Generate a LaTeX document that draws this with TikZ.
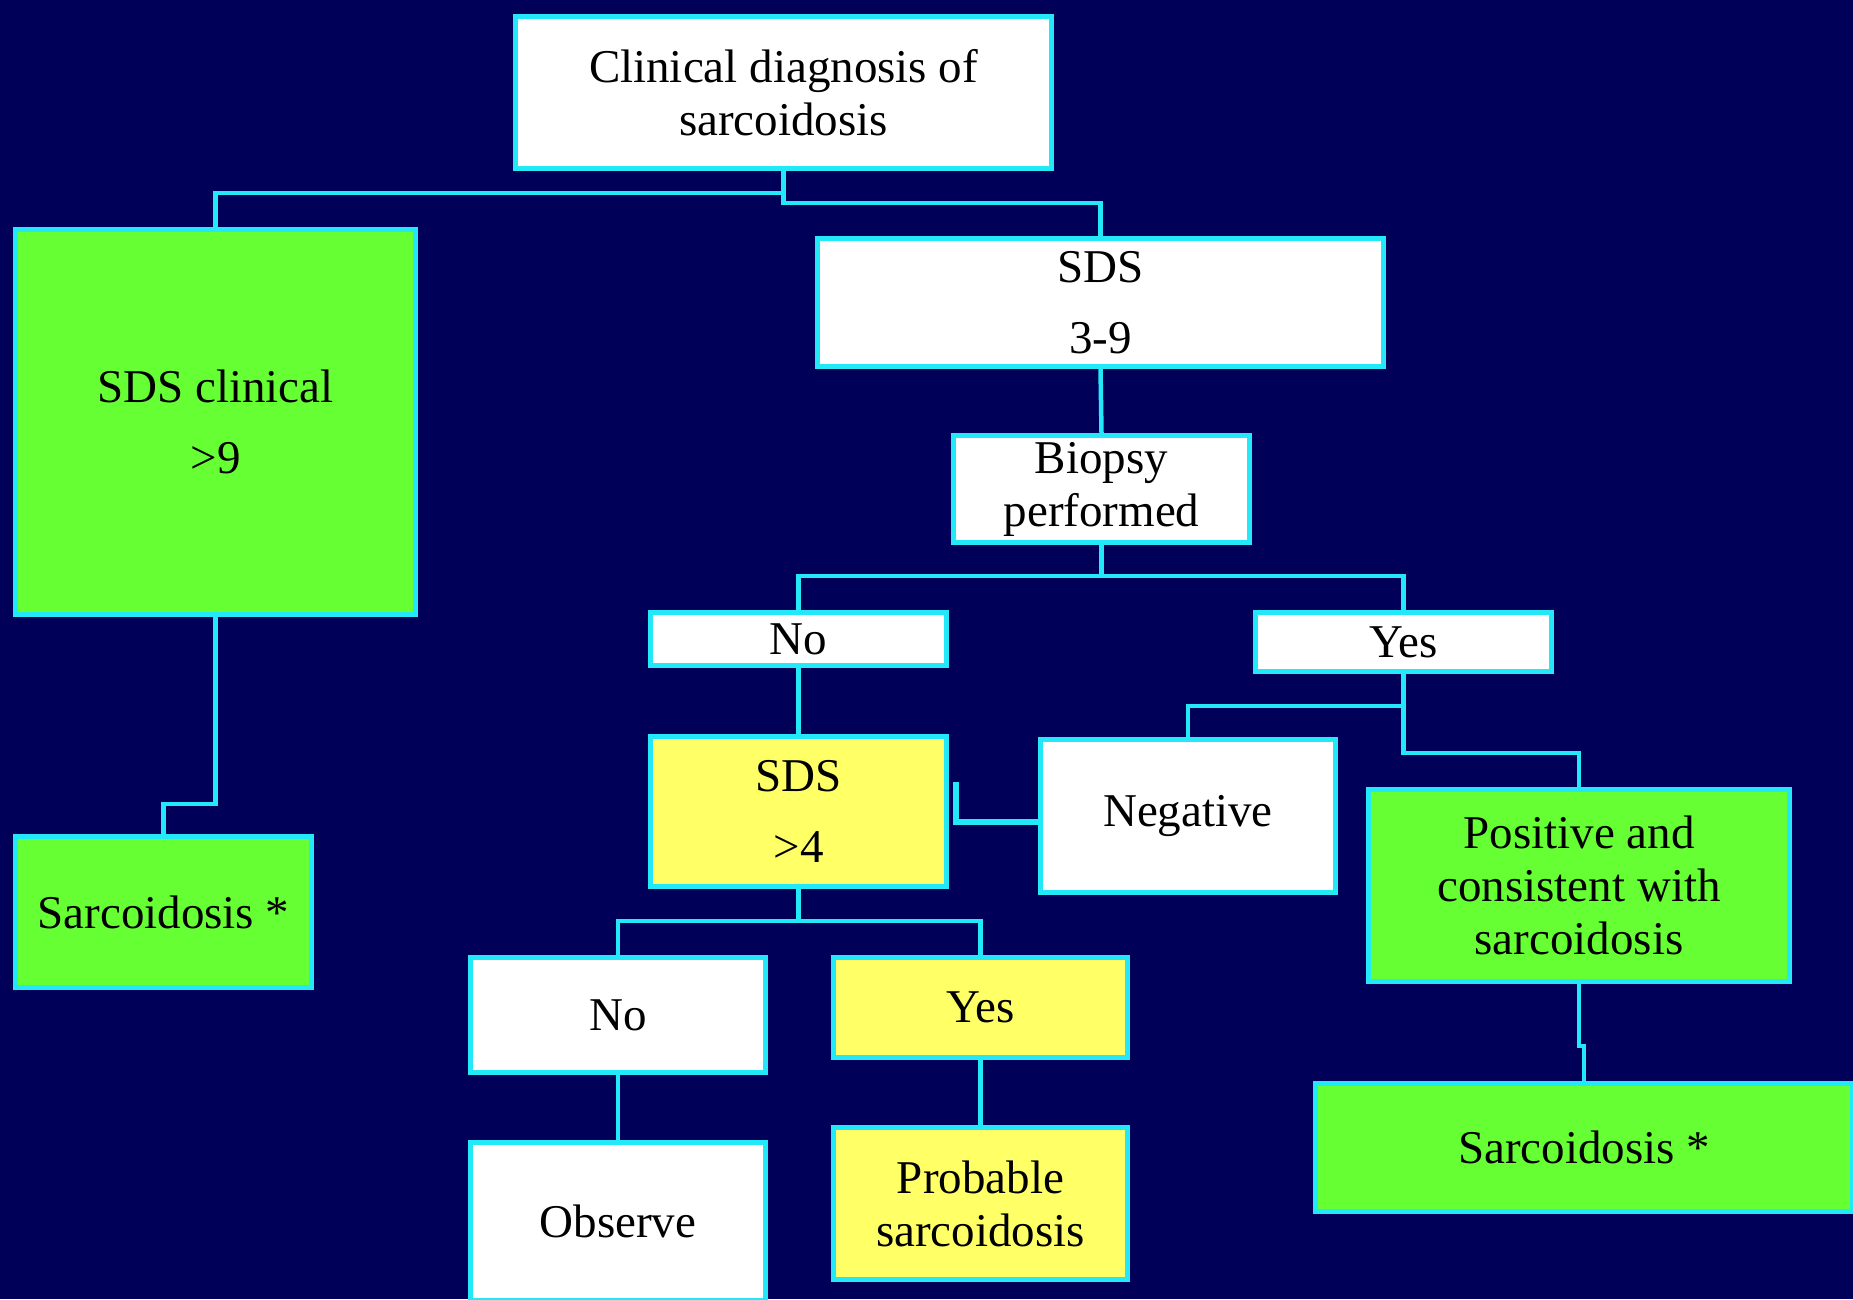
\documentclass[tikz,border=0pt]{standalone}
\usepackage{fontspec}
\setmainfont{Liberation Serif}
\usetikzlibrary{calc}
\definecolor{bgnavy}{RGB}{0,0,88}
\definecolor{edge}{RGB}{35,232,248}
\definecolor{boxgreen}{RGB}{102,255,51}
\definecolor{boxyellow}{RGB}{255,255,102}
\begin{document}
\begin{tikzpicture}[x=1pt,y=-1pt,
  box/.style={draw=edge, line width=5pt, align=center, inner sep=0pt,
    font=\fontsize{47}{53}\selectfont, text=black},
  wbox/.style={box, fill=white},
  gbox/.style={box, fill=boxgreen},
  ybox/.style={box, fill=boxyellow},
  conn/.style={draw=edge, line width=4.5pt}]
\fill[bgnavy] (0,0) rectangle (1853,1299);
\useasboundingbox (0,0) rectangle (1853,1299);
\clip (0,0) rectangle (1853,1299);

% boxes
\node[wbox, minimum width=536pt, minimum height=152pt] (top) at (783.5,92.5)
  {Clinical diagnosis of\\sarcoidosis};
\node[gbox, minimum width=400pt, minimum height=385pt] (clin) at (215.5,422)
  {SDS clinical\\[18pt]>9};
\node[gbox, minimum width=296pt, minimum height=151pt] (sarcL) at (163.5,912)
  {Sarcoidosis *};
\node[wbox, minimum width=566pt, minimum height=128pt] (sds39) at (1100.5,302.5)
  {SDS\\[18pt]3-9};
\node[wbox, minimum width=296pt, minimum height=107pt] (biopsy) at (1101.5,489)
  {Biopsy\\performed};
\node[wbox, minimum width=296pt, minimum height=53pt] (no1) at (798.5,639) {No};
\node[wbox, minimum width=296pt, minimum height=59pt] (yes1) at (1403.5,642) {Yes};
\node[ybox, minimum width=296pt, minimum height=150pt] (sds4) at (798.5,811.5)
  {SDS\\[18pt]>4};
\node[wbox, minimum width=295pt, minimum height=153pt] (neg) at (1188,816) {Negative};
\node[gbox, minimum width=421pt, minimum height=192pt] (pos) at (1579,885.5)
  {Positive and\\consistent with\\sarcoidosis};
\node[wbox, minimum width=295pt, minimum height=115pt] (no2) at (618,1015) {No};
\node[ybox, minimum width=294pt, minimum height=100pt] (yes2) at (980.5,1007.5) {Yes};
\node[wbox, minimum width=295pt, minimum height=158pt] (obs) at (618,1221) {Observe};
\node[ybox, minimum width=294pt, minimum height=152pt] (prob) at (980.5,1203.5)
  {Probable\\sarcoidosis};
\node[gbox, minimum width=537pt, minimum height=128pt] (sarcR) at (1584,1147.5)
  {Sarcoidosis *};

% connectors
\draw[conn] (top.south) -- ++(0,22) coordinate (j1) -| (clin.north);
\draw[conn] (j1) -- ++(0,10) -| (sds39.north);
\draw[conn] (clin.south) |- ($(sarcL.north)+(0,-30)$) -- (sarcL.north);
\draw[conn] (sds39.south) -- (biopsy.north);
\draw[conn] (biopsy.south) -- ++(0,31) coordinate (j2) -| (no1.north);
\draw[conn] (j2) -| (yes1.north);
\draw[conn] (no1.south) -- (sds4.north);
\draw[conn] (yes1.south) -- ++(0,32) coordinate (j3) -| (neg.north);
\draw[conn] (j3) -- ++(0,47) -| (pos.north);
\draw[conn, line width=6.5pt] ([xshift=7pt,yshift=29.5pt]sds4.east) |- ([yshift=-6pt]neg.west);
\draw[conn] (sds4.south) -- ++(0,32) coordinate (j4) -| (no2.north);
\draw[conn] (j4) -| (yes2.north);
\draw[conn] (no2.south) -- (obs.north);
\draw[conn] (yes2.south) -- (prob.north);
\draw[conn] (pos.south) -- ++(0,62) -| (sarcR.north);
\end{tikzpicture}
\end{document}
